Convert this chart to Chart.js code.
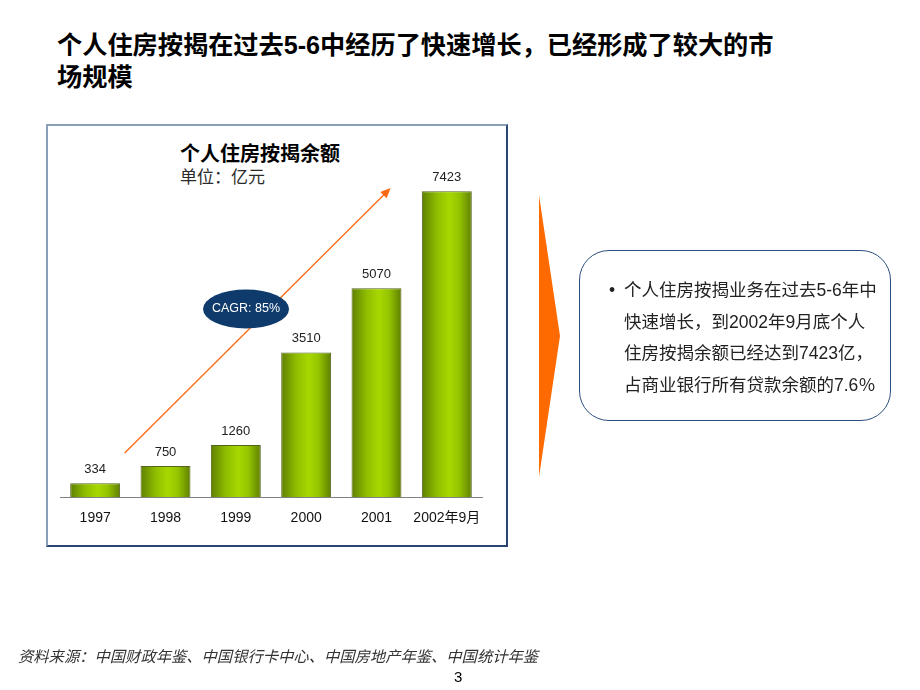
<!DOCTYPE html>
<html>
<head>
<meta charset="utf-8">
<script src="https://cdn.jsdelivr.net/npm/chart.js@4.4.1/dist/chart.umd.min.js"></script>
<style>
  html, body { margin: 0; padding: 0; background: #fff; }
  body { width: 920px; height: 690px; position: relative; overflow: hidden;
         font-family: Arial, "Liberation Sans", "Noto Sans CJK SC", sans-serif; }
  .headline { position: absolute; left: 57px; top: 29px; font-size: 25.2px; font-weight: bold;
              line-height: 32px; color: #000; white-space: nowrap; }
  .chartBox { position: absolute; left: 46px; top: 124px; width: 458px; height: 419px;
              border: 2px solid #2a4670; border-top-color: #8aa0b8; border-left-color: #8aa0b8; }
  .chartTitle { position: absolute; left: 180px; top: 142px; font-size: 20px; font-weight: bold;
                line-height: 24px; color: #000; white-space: nowrap; }
  .chartUnit { position: absolute; left: 180px; top: 167px; font-size: 17px; line-height: 21px;
               color: #2a2a2a; white-space: nowrap; }
  #chart { position: absolute; left: 0; top: 0; }
  .chevron { position: absolute; left: 539px; top: 195px; width: 21px; height: 282px;
             background: #ff6a00; clip-path: polygon(0 0, 100% 50%, 0 100%); }
  .callout { position: absolute; left: 579px; top: 250px; width: 310px; height: 169px;
             border: 1.5px solid #2b4f7e; border-radius: 30px; }
  .callout .txt { position: absolute; left: 44px; top: 24px; font-size: 17.5px; line-height: 31.7px;
                  color: #222; white-space: nowrap; }
  .callout .dot { position: absolute; left: 29px; top: 24px; font-size: 17.5px; line-height: 31.7px; color: #222; }
  .source { position: absolute; left: 18px; top: 647px; font-size: 15.3px; line-height: 20px;
            font-style: italic; color: #333; white-space: nowrap; }
  .page { position: absolute; left: 454px; top: 668px; font-size: 15px; line-height: 18px; color: #000; }
</style>
</head>
<body>
<div class="headline">个人住房按揭在过去5-6中经历了快速增长，已经形成了较大的市<br>场规模</div>
<div class="chartBox"></div>
<div class="chartTitle">个人住房按揭余额</div>
<div class="chartUnit">单位：亿元</div>
<canvas id="chart" width="920" height="690"></canvas>
<div class="chevron"></div>
<div class="callout">
  <div class="dot">•</div>
  <div class="txt">个人住房按揭业务在过去5-6年中<br>快速增长，到2002年9月底个人<br>住房按揭余额已经达到7423亿，<br>占商业银行所有贷款余额的7.6％</div>
</div>
<div class="source">资料来源：中国财政年鉴、中国银行卡中心、中国房地产年鉴、中国统计年鉴</div>
<div class="page">3</div>

<script>
const categories = ["1997", "1998", "1999", "2000", "2001", "2002年9月"];
const balances = [334, 750, 1260, 3510, 5070, 7423];
const cagrText = "CAGR: 85%";

const FONT = 'Arial, "Liberation Sans", "Noto Sans CJK SC", sans-serif';
const BAR_PCT = 0.71;

// cylinder-like shading for each bar
function barGradient(context) {
    const chart = context.chart;
    const area = chart.chartArea;
    if (!area) return "#8fb800";
    const cx = chart.scales.x.getPixelForValue(context.dataIndex);
    const half = area.width / categories.length * BAR_PCT / 2;
    const g = chart.ctx.createLinearGradient(cx - half, 0, cx + half, 0);
    g.addColorStop(0, "#5f7f00");
    g.addColorStop(0.3, "#8fbd00");
    g.addColorStop(0.55, "#a8d800");
    g.addColorStop(0.75, "#94c400");
    g.addColorStop(1, "#5f7f00");
    return g;
}

// value labels above bars
const valueLabels = {
    id: "valueLabels",
    afterDatasetsDraw(chart) {
        const ctx = chart.ctx;
        const meta = chart.getDatasetMeta(0);
        ctx.save();
        ctx.font = "13px " + FONT;
        ctx.fillStyle = "#222";
        ctx.textAlign = "center";
        ctx.textBaseline = "middle";
        meta.data.forEach((bar, i) => {
            ctx.fillText(String(balances[i]), bar.x, bar.y - 14);
        });
        ctx.restore();
    }
};

// growth arrow + CAGR badge (placed in data terms)
const trendArrow = {
    id: "trendArrow",
    beforeDatasetsDraw(chart) {
        const { x, y } = chart.scales;
        const x0 = x.getPixelForValue(0.42), y0 = y.getPixelForValue(1068);
        const x1 = x.getPixelForValue(4.2), y1 = y.getPixelForValue(7504);
        const ctx = chart.ctx;
        const ang = Math.atan2(y1 - y0, x1 - x0);
        ctx.save();
        ctx.strokeStyle = "#ff6a10";
        ctx.fillStyle = "#ff6a10";
        ctx.lineWidth = 1.3;
        ctx.beginPath();
        ctx.moveTo(x0, y0);
        ctx.lineTo(x1 - 8 * Math.cos(ang), y1 - 8 * Math.sin(ang));
        ctx.stroke();
        ctx.beginPath();
        ctx.moveTo(x1, y1);
        ctx.lineTo(x1 - 10 * Math.cos(ang) + 4.5 * Math.sin(ang), y1 - 10 * Math.sin(ang) - 4.5 * Math.cos(ang));
        ctx.lineTo(x1 - 10 * Math.cos(ang) - 4.5 * Math.sin(ang), y1 - 10 * Math.sin(ang) + 4.5 * Math.cos(ang));
        ctx.closePath();
        ctx.fill();
        ctx.restore();
    },
    afterDatasetsDraw(chart) {
        const { x, y } = chart.scales;
        const cx = x.getPixelForValue(2.145), cy = y.getPixelForValue(4565);
        const ctx = chart.ctx;
        ctx.save();
        ctx.fillStyle = "#0e3a6c";
        ctx.beginPath();
        ctx.ellipse(cx, cy, 43, 19.5, 0, 0, Math.PI * 2);
        ctx.fill();
        ctx.fillStyle = "#fff";
        ctx.font = "12.5px " + FONT;
        ctx.textAlign = "center";
        ctx.textBaseline = "middle";
        ctx.fillText(cagrText, cx, cy);
        ctx.restore();
    }
};

new Chart(document.getElementById("chart").getContext("2d"), {
    type: "bar",
    data: {
        labels: categories,
        datasets: [{
            label: "个人住房按揭余额",
            data: balances,
            backgroundColor: barGradient,
            borderColor: "#56641e",
            borderWidth: 1,
            barPercentage: BAR_PCT,
            categoryPercentage: 1
        }]
    },
    options: {
        responsive: false,
        animation: false,
        layout: { padding: { left: 60, right: 438, top: 167.6, bottom: 153 } },
        plugins: {
            legend: { display: false },
            tooltip: { enabled: false }
        },
        scales: {
            x: {
                grid: { display: false, drawTicks: false },
                border: { display: true, color: "#808080", width: 1 },
                ticks: { color: "#111", font: { family: FONT, size: 14 }, padding: 13, maxRotation: 0 },
                afterFit: scale => { scale.height = 40; }
            },
            y: { display: false, min: 0, max: 8000 }
        }
    },
    plugins: [trendArrow, valueLabels]
});
</script>
</body>
</html>
